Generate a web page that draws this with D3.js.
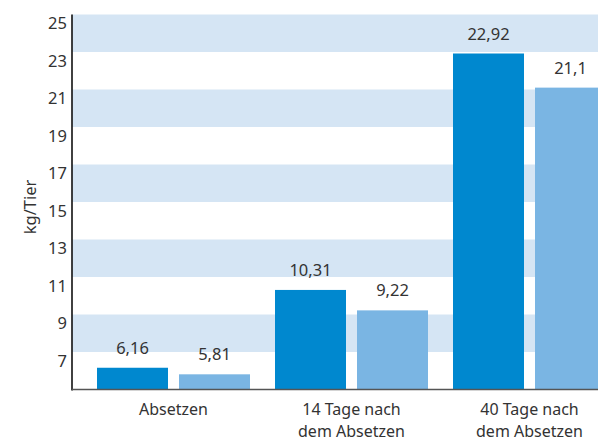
<!DOCTYPE html>
<html lang="de">
<head>
<meta charset="UTF-8">
<title>kg/Tier</title>
<script src="https://d3js.org/d3.v7.min.js"></script>
<style>
  body { margin: 0; background: #fff; }
  svg { display: block; }
  text { font-family: "Noto Sans", "Open Sans", sans-serif; fill: #333; }
</style>
</head>
<body>
<svg id="chart" width="598" height="440"></svg>
<script>
  // data
  var categories = [["Absetzen"], ["14 Tage nach", "dem Absetzen"], ["40 Tage nach", "dem Absetzen"]];
  var seriesNames = ["a", "b"];
  var valuesA = [6.16, 10.31, 22.92];
  var valuesB = [5.81, 9.22, 21.1];
  var yTicks = [7, 9, 11, 13, 15, 17, 19, 21, 23, 25];
  var bands = [[7, 9], [11, 13], [15, 17], [19, 21], [23, 25]];

  var svg = d3.select("#chart"),
    width = +svg.attr("width"),
    height = +svg.attr("height");

  var mLeft = 72, mTop = 14.5, mBottom = 389.5;
  var colors = ["#0088cf", "#7ab5e3"];
  var fs = "16.5px";

  var y = d3.scaleLinear().domain([5, 25]).range([mBottom, mTop]);

  var x = d3.scaleBand()
    .domain(d3.range(categories.length))
    .range([84.5, 84.5 + 3 * 178])
    .paddingInner(25 / 178)
    .paddingOuter(12.5 / 178);

  var xs = d3.scaleBand()
    .domain(seriesNames)
    .range([0, x.bandwidth()])
    .paddingInner(11 / 82);

  // background stripes
  svg.append("g")
    .selectAll("rect")
    .data(bands)
    .enter()
    .append("rect")
      .attr("x", mLeft)
      .attr("width", width - mLeft)
      .attr("y", function(d) { return y(d[1]); })
      .attr("height", function(d) { return y(d[0]) - y(d[1]); })
      .attr("fill", "#d5e5f4");

  // bars
  var rows = categories.map(function(c, i) {
    return [{s: "a", v: valuesA[i]}, {s: "b", v: valuesB[i]}];
  });

  var groups = svg.append("g")
    .selectAll("g")
    .data(rows)
    .enter()
    .append("g")
      .attr("transform", function(d, i) { return "translate(" + x(i) + ",0)"; });

  groups.selectAll("rect")
    .data(function(d) { return d; })
    .enter()
    .append("rect")
      .attr("x", function(d) { return xs(d.s); })
      .attr("width", xs.bandwidth())
      .attr("y", function(d) { return y(d.v); })
      .attr("height", function(d) { return mBottom - y(d.v); })
      .attr("fill", function(d, j) { return colors[j]; });

  groups.selectAll("text")
    .data(function(d) { return d; })
    .enter()
    .append("text")
      .attr("x", function(d) { return xs(d.s) + xs.bandwidth() / 2; })
      .attr("y", function(d) { return y(d.v) - 14; })
      .attr("text-anchor", "middle")
      .style("font-size", fs)
      .text(function(d) { return String(d.v).replace(".", ","); });

  // y axis
  svg.append("line")
    .attr("x1", mLeft).attr("x2", mLeft)
    .attr("y1", mTop).attr("y2", mBottom + 1)
    .attr("stroke", "#111").attr("stroke-width", 1.6);

  svg.append("g")
    .selectAll("text")
    .data(yTicks)
    .enter()
    .append("text")
      .attr("x", 67)
      .attr("y", function(d) { return y(d) + 14.5; })
      .attr("text-anchor", "end")
      .style("font-size", fs)
      .text(function(d) { return d; });

  svg.append("text")
    .attr("transform", "translate(36,207) rotate(-90)")
    .attr("text-anchor", "middle")
    .style("font-size", fs)
    .text("kg/Tier");

  // x axis
  svg.append("line")
    .attr("x1", mLeft).attr("x2", width)
    .attr("y1", mBottom).attr("y2", mBottom)
    .attr("stroke", "#555").attr("stroke-width", 1.6);

  svg.append("g")
    .selectAll("text")
    .data(categories)
    .enter()
    .append("text")
      .attr("x", function(d, i) { return x(i) + x.bandwidth() / 2; })
      .attr("y", 415)
      .attr("text-anchor", "middle")
      .style("font-size", "16px")
      .selectAll("tspan")
      .data(function(d) { return d; })
      .enter()
      .append("tspan")
        .attr("x", function() { return d3.select(this.parentNode).attr("x"); })
        .attr("dy", function(d, j) { return j ? 21.5 : 0; })
        .text(function(d) { return d; });
</script>
</body>
</html>
